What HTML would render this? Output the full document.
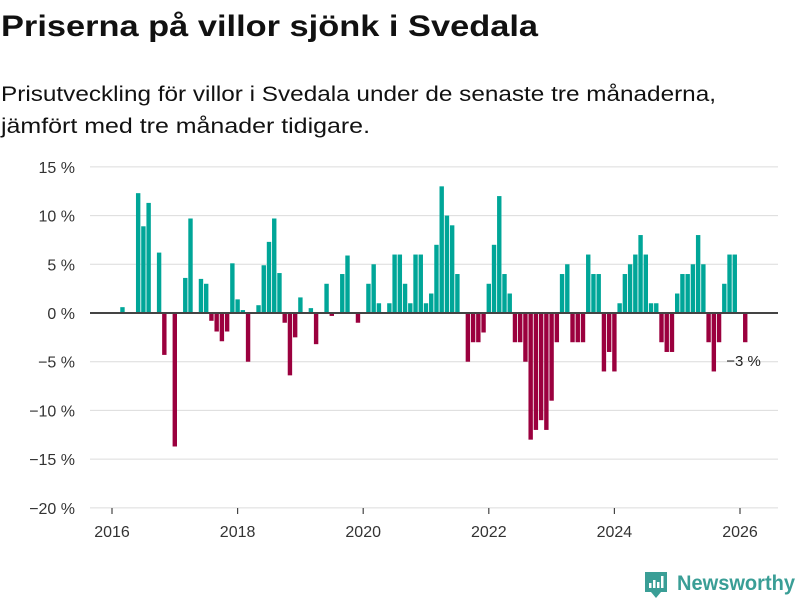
<!DOCTYPE html>
<html><head><meta charset="utf-8"><style>
body{margin:0;background:#fff;}
svg{display:block;font-family:"Liberation Sans","DejaVu Sans",sans-serif;}
</style></head><body>
<svg id="chart" width="800" height="600">
<text x="1" y="36" font-size="30" font-weight="bold" fill="#111" textLength="537" lengthAdjust="spacingAndGlyphs">Priserna på villor sjönk i Svedala</text>
<text x="1" y="101" font-size="21" fill="#111" textLength="715" lengthAdjust="spacingAndGlyphs">Prisutveckling för villor i Svedala under de senaste tre månaderna,</text>
<text x="1" y="133" font-size="21" fill="#111" textLength="369" lengthAdjust="spacingAndGlyphs">jämfört med tre månader tidigare.</text>
<g id="grid"></g><g id="bars"></g><g id="axes"></g>
<g>
<path d="M645 572 h22 v20 h-6 l-5 6 l-5 -6 h-6 z" fill="#3a9e96"/>
<rect x="649" y="583" width="2.5" height="5" fill="#fff"/><rect x="653" y="580" width="2.5" height="8" fill="#fff"/><rect x="657" y="582" width="2.5" height="6" fill="#fff"/><rect x="661" y="576" width="2.5" height="12" fill="#fff"/>
<text x="677" y="590" font-size="21" font-weight="bold" fill="#3a9e96" textLength="118" lengthAdjust="spacingAndGlyphs">Newsworthy</text>
</g>
</svg>
<script>
const startYear = 2016;
const values = [0,0,0.6,0,0,12.3,8.9,11.3,0,6.2,-4.3,0,-13.7,0,3.6,9.7,0,3.5,3.0,-0.8,-1.9,-2.9,-1.9,5.1,
1.4,0.3,-5.0,0,0.8,4.9,7.3,9.7,4.1,-1.0,-6.4,-2.5,1.6,0,0.5,-3.2,0,3.0,-0.3,0,4.0,5.9,0,-1.0,
0,3.0,5.0,1.0,0,1.0,6,6,3,1,6,6,1,2,7,13,10,9,4,0,-5,-3,-3,-2,
3,7,12,4,2,-3,-3,-5,-13,-12,-11,-12,-9,-3,4,5,-3,-3,-3,6,4,4,-6,-4,
-6,1,4,5,6,8,6,1,1,-3,-4,-4,2,4,4,5,8,5,-3,-6,-3,3,6,6,0,-3];
const yTicks = [15,10,5,0,-5,-10,-15,-20];
const xTicks = [2016,2018,2020,2022,2024,2026];
const lastLabel = "−3 %";
const NS="http://www.w3.org/2000/svg";
const x = t => 112 + (t-2016)*62.8;
const y = v => 313 - v*9.743;
function mk(tag,attrs,parent){const e=document.createElementNS(NS,tag);for(const k in attrs)e.setAttribute(k,attrs[k]);document.getElementById(parent).appendChild(e);return e;}
yTicks.forEach(v=>{
  const l=mk('line',{x1:90,x2:778,y1:y(v),y2:y(v),stroke:'#dcdcdc','stroke-width':1},'grid');
  
  
  const t=mk('text',{x:75,y:y(v)+6,'text-anchor':'end','font-size':16,fill:'#333'},'axes');
  t.textContent=(v<0?'−'+(-v):v)+' %';
  
  
});
values.forEach((v,i)=>{
  if(v===0)return;
  const cx=x(startYear+i/12);
  const r=mk('rect',{x:cx-2.2,width:4.4,y:Math.min(y(v),y(0)),height:Math.abs(y(v)-y(0)),fill:v>0?'#00a698':'#9b003e'},'bars');
  
  
});
const z=mk('line',{x1:90,x2:778,y1:y(0),y2:y(0),stroke:'#444','stroke-width':2},'axes');


xTicks.forEach(t=>{
  const tk=mk('line',{x1:x(t),x2:x(t),y1:508,y2:514,stroke:'#444','stroke-width':1.2},'axes');
  
  
  const tx=mk('text',{x:x(t),y:537,'text-anchor':'middle','font-size':16,fill:'#333'},'axes');
  tx.textContent=t;
  
  
});
const li=values.length-1;
const lab=mk('text',{x:x(startYear+li/12)-19,y:y(values[li])+24,'font-size':15,fill:'#222'},'axes');
lab.textContent=lastLabel;


</script>
</body></html>
